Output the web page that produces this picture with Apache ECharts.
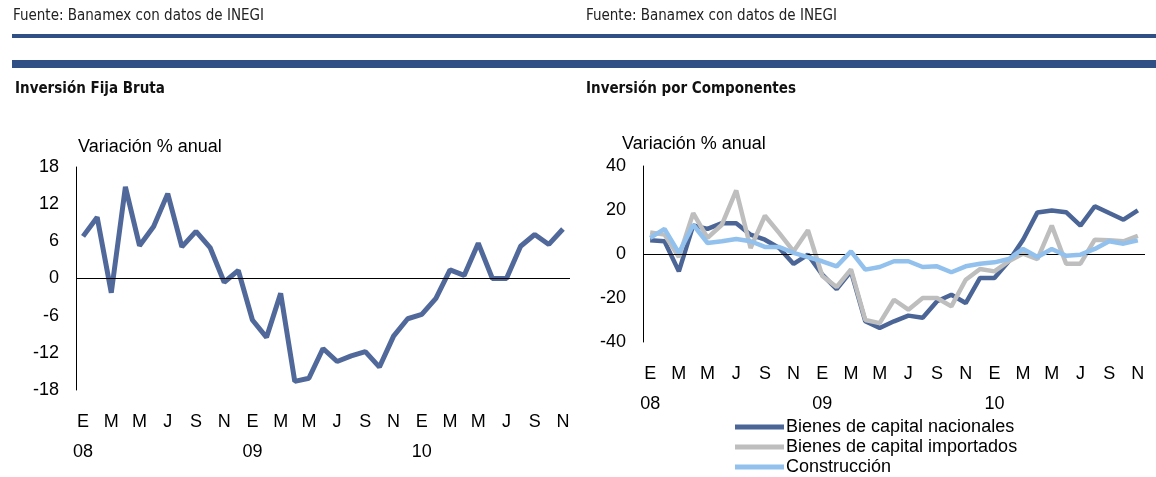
<!DOCTYPE html>
<html>
<head>
<meta charset="utf-8">
<script src="https://cdn.jsdelivr.net/npm/echarts@6/dist/echarts.min.js"></script>
<style>
html,body{margin:0;padding:0;background:#fff;}
#c{width:1156px;height:477px;}
</style>
</head>
<body>
<div id="c"></div>
<script>
const monthLabels = ['E','F','M','A','M','J','J','A','S','O','N','D'];
const yearLabels = ['08','09','10'];
const nMonths = 35;
const categories = [];
for (let i = 0; i < nMonths; i++) categories.push(monthLabels[i % 12] + '-' + yearLabels[Math.floor(i / 12)]);

const ifbTicks = {min: -18, max: 18, interval: 6};
const compTicks = {min: -40, max: 40, interval: 20};

const ifb = [6.8, 9.9, -2.3, 14.8, 5.3, 8.4, 13.7, 5.1, 7.6, 5.0, -0.6, 1.3,
             -6.7, -9.5, -2.4, -16.6, -16.1, -11.3, -13.4, -12.5, -11.8, -14.3, -9.3, -6.5,
             -5.8, -3.2, 1.4, 0.5, 5.7, 0, 0, 5.2, 7.1, 5.5, 8.0];

const nacionales = [6.2, 5.8, -7.9, 13, 11.4, 14, 14, 8.8, 6.5, 2.7, -4.5, -0.3,
                    -9.4, -16, -7.9, -30.6, -33.6, -30.6, -28, -29, -21.5, -18.5, -22.3, -10.9,
                    -10.9, -3.3, 6.5, 18.9, 19.8, 19, 12.9, 21.7, 18.6, 15.6, 19.8];
const importados = [9.8, 8.8, -1.4, 18.6, 7.3, 13.3, 28.9, 2.7, 17.4, 9.5, 1.2, 10.8,
                    -10, -15, -7, -30, -31.4, -20.8, -25.3, -20, -20, -23.8, -11.7, -6.8,
                    -7.9, -3.3, 0.2, -2.3, 12.9, -4.4, -4.4, 6.5, 6.2, 5.8, 8.3];
const construccion = [7.3, 11.4, 0.5, 13.3, 5, 5.8, 6.8, 5.8, 3.2, 3.2, 0.5, -1.4,
                      -3.3, -5.6, 1.2, -7.1, -5.9, -3.3, -3.3, -5.9, -5.6, -8.3, -5.6, -4.4,
                      -3.8, -2.3, 2.3, -1.4, 2.3, -0.8, -0.3, 2.3, 5.8, 4.7, 6.2];

const seriesNames = ['Bienes de capital nacionales', 'Bienes de capital importados', 'Construcción'];
const textSource = 'Fuente: Banamex con datos de INEGI';
const titleLeft = 'Inversión Fija Bruta';
const titleRight = 'Inversión por Componentes';
const unitLabel = 'Variación % anual';

const FONT = '"Liberation Sans", Arial, sans-serif';
const NARROW = '"Liberation Sans Narrow", "DejaVu Sans Condensed", "Liberation Sans", sans-serif';
const NARROW_B = '"DejaVu Sans Condensed", "Liberation Sans Narrow", sans-serif';
const BAR = '#2f4f85';

function xLabel(value, index) {
  const m = index % 12;
  let s = monthLabels[m];
  if (m === 0) s += '\n' + yearLabels[Math.floor(index / 12)];
  return s;
}

function xAxisCfg(gi) {
  return {
    type: 'category', gridIndex: gi, data: categories, boundaryGap: true,
    axisLine: {show: false}, axisTick: {show: false},
    axisLabel: {interval: 1, formatter: xLabel, color: '#000', fontFamily: FONT, fontSize: 18, lineHeight: 30, margin: 17}
  };
}
function yAxisCfg(gi, t) {
  return {
    type: 'value', gridIndex: gi, min: t.min, max: t.max, interval: t.interval,
    splitLine: {show: false}, axisTick: {show: false},
    axisLine: {show: true, lineStyle: {color: '#000', width: 1}},
    axisLabel: {color: '#000', fontFamily: FONT, fontSize: 18, margin: 17}
  };
}
const zeroLine = {
  silent: true, symbol: 'none', label: {show: false},
  lineStyle: {color: '#000', width: 1, type: 'solid'},
  data: [{yAxis: 0}]
};

const chart = echarts.init(document.getElementById('c'), null, {renderer: 'canvas'});
chart.setOption({
  animation: false,
  backgroundColor: '#fff',
  grid: [
    {left: 76, top: 167, width: 494, height: 223},
    {left: 643, top: 166, width: 502, height: 176}
  ],
  xAxis: [xAxisCfg(0), xAxisCfg(1)],
  yAxis: [yAxisCfg(0, ifbTicks), yAxisCfg(1, compTicks)],
  legend: {
    orient: 'vertical', left: 735, top: 417, itemGap: 0, padding: 0, height: 70,
    icon: 'rect', itemWidth: 49, itemHeight: 5,
    textStyle: {color: '#000', fontFamily: FONT, fontSize: 18, lineHeight: 20, padding: [0, 0, 0, -3]},
    data: seriesNames
  },
  graphic: [
    {type: 'text', left: 13, top: 9, style: {text: textSource, font: '15px ' + NARROW, fill: '#222'}},
    {type: 'text', left: 586, top: 9, style: {text: textSource, font: '15px ' + NARROW, fill: '#222'}},
    {type: 'rect', shape: {x: 12, y: 34, width: 1144, height: 4}, style: {fill: BAR}},
    {type: 'rect', shape: {x: 12, y: 60, width: 1144, height: 8}, style: {fill: BAR}},
    {type: 'text', left: 15, top: 82, style: {text: titleLeft, font: 'bold 15px ' + NARROW_B, fill: '#111'}},
    {type: 'text', left: 586, top: 82, style: {text: titleRight, font: 'bold 15px ' + NARROW_B, fill: '#111'}},
    {type: 'text', left: 78, top: 138, style: {text: unitLabel, font: '18px ' + FONT, fill: '#000'}},
    {type: 'text', left: 622, top: 135, style: {text: unitLabel, font: '18px ' + FONT, fill: '#000'}}
  ],
  series: [
    {type: 'line', name: 'IFB', xAxisIndex: 0, yAxisIndex: 0, data: ifb, symbol: 'none',
     lineStyle: {color: '#50699a', width: 5}, itemStyle: {color: '#50699a'}, markLine: zeroLine, z: 3},
    {type: 'line', name: seriesNames[0], xAxisIndex: 1, yAxisIndex: 1, data: nacionales, symbol: 'none',
     lineStyle: {color: '#4a6596', width: 4.5}, itemStyle: {color: '#4a6596'}, markLine: zeroLine, z: 3},
    {type: 'line', name: seriesNames[1], xAxisIndex: 1, yAxisIndex: 1, data: importados, symbol: 'none',
     lineStyle: {color: '#bebebe', width: 4.5}, itemStyle: {color: '#bebebe'}, z: 4},
    {type: 'line', name: seriesNames[2], xAxisIndex: 1, yAxisIndex: 1, data: construccion, symbol: 'none',
     lineStyle: {color: '#92c1ee', width: 4.5}, itemStyle: {color: '#92c1ee'}, z: 5}
  ]
});
</script>
</body>
</html>
